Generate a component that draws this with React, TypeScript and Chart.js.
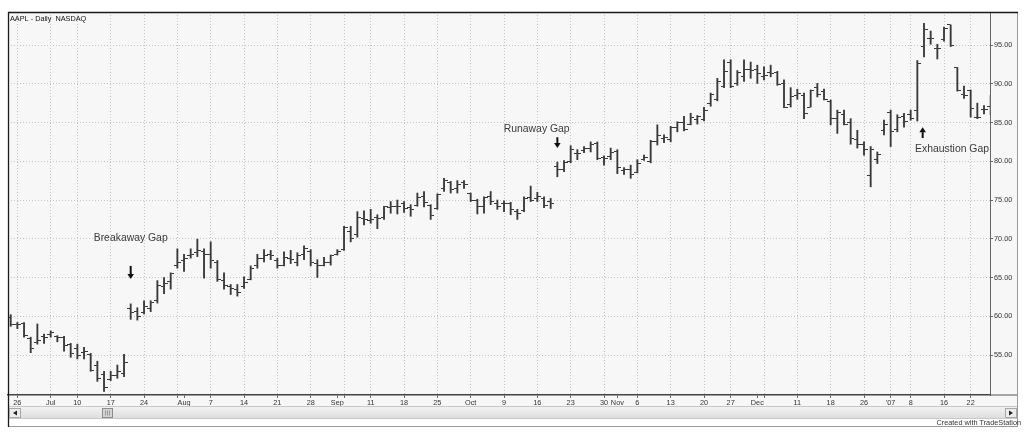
import React, { useEffect, useRef } from "react";
import { Chart, registerables } from "chart.js";

Chart.register(...registerables);

// AAPL daily bars, Jun 23 2006 .. Jan 25 2007 (index = trading day number)
const opens = [
  59.9, 59.0, 59.1, 57.1, 56.6, 57.4, 57.6, 57.4, 57.2, 56.3,
  55.8, 55.3, 55.1, 53.6, 52.5, 51.9, 52.4, 52.6, 61.0, 60.6,
  60.5, 61.0, 62.0, 63.8, 64.5, 66.5, 67.2, 67.8, 68.2, 68.4,
  68.0, 67.0, 64.6, 63.8, 63.5, 63.8, 64.8, 66.5, 67.5, 68.0,
  67.2, 66.6, 67.5, 67.0, 68.0, 68.3, 66.8, 66.6, 67.0, 68.0,
  68.6, 71.0, 70.5, 72.6, 72.3, 72.8, 72.8, 74.0, 74.2, 74.5,
  74.0, 74.3, 75.5, 74.3, 73.9, 76.5, 77.2, 76.5, 77.2, 75.8,
  75.0, 74.2, 75.4, 74.5, 74.6, 74.5, 73.5, 73.6, 75.3, 75.2,
  75.2, 74.8, 79.3, 79.0, 80.0, 81.0, 81.4, 81.6, 82.3, 80.5,
  80.6, 81.2, 78.8, 78.9, 78.6, 80.2, 80.0, 82.5, 83.0, 82.8,
  84.4, 85.0, 84.8, 85.4, 85.4, 87.4, 88.0, 89.6, 92.8, 90.0,
  91.0, 91.8, 91.8, 91.0, 91.5, 91.5, 90.0, 87.3, 88.5, 88.5,
  87.0, 89.5, 89.0, 87.7, 85.5, 86.0, 85.0, 82.8, 82.2, 78.2,
  80.2, 84.0, 86.3, 84.1, 85.8, 86.0, 86.5, 94.8, 95.9, 94.6,
  95.7, 97.6, 92.1, 88.6, 89.1, 85.7, 86.7, 87.1,
];
const highs = [
  60.2, 59.2, 59.2, 57.3, 59.0, 57.7, 58.1, 57.5, 57.4, 56.5,
  56.4, 56.0, 55.2, 54.2, 52.9, 52.9, 53.7, 55.1, 61.6, 61.1,
  62.0, 62.0, 64.6, 65.0, 65.6, 68.7, 68.0, 68.7, 69.95, 68.7,
  69.6, 67.2, 65.6, 64.1, 64.1, 65.1, 66.5, 68.0, 68.6, 68.5,
  67.5, 68.3, 68.5, 68.2, 69.1, 68.6, 67.3, 67.6, 67.9, 68.6,
  71.6, 71.6, 73.5, 73.6, 73.8, 73.1, 74.2, 74.8, 75.0, 74.8,
  74.4, 75.9, 76.1, 74.4, 75.8, 77.8, 77.4, 77.5, 77.5, 75.9,
  75.1, 75.4, 76.1, 75.0, 74.9, 74.7, 73.8, 75.4, 76.8, 76.0,
  75.4, 75.2, 79.9, 80.1, 82.0, 81.5, 81.9, 82.5, 82.5, 80.7,
  81.7, 81.5, 79.2, 79.5, 80.2, 80.8, 82.7, 84.7, 83.4, 84.5,
  85.1, 85.8, 86.2, 85.9, 86.95, 88.8, 90.7, 93.1, 93.1, 91.7,
  93.1, 92.8, 92.4, 92.2, 92.4, 91.6, 90.5, 89.5, 89.3, 88.8,
  89.2, 90.05, 89.3, 87.9, 86.6, 86.6, 85.5, 84.0, 82.5, 81.9,
  81.2, 85.3, 86.6, 86.0, 86.2, 86.6, 93.0, 97.8, 96.8, 95.1,
  97.3, 97.6, 92.1, 89.7, 89.2, 87.5, 87.2, 88.5,
];
const lows = [
  58.7, 58.4, 57.3, 55.3, 56.4, 56.5, 57.3, 56.7, 55.5, 54.7,
  54.5, 54.5, 52.9, 51.6, 50.3, 51.7, 52.0, 52.2, 59.6, 59.5,
  60.3, 60.6, 61.7, 62.9, 63.5, 66.2, 65.8, 67.5, 67.7, 64.9,
  66.2, 64.5, 63.5, 62.8, 62.6, 63.6, 64.7, 66.2, 67.0, 67.3,
  66.2, 66.5, 66.8, 66.5, 67.3, 66.5, 65.0, 66.5, 66.6, 67.9,
  68.5, 69.6, 70.2, 71.8, 72.0, 71.3, 72.5, 73.3, 73.2, 73.4,
  72.9, 74.2, 74.1, 72.5, 73.8, 76.1, 75.9, 75.9, 76.5, 74.8,
  73.2, 73.3, 74.4, 73.8, 73.5, 73.1, 72.5, 73.5, 74.8, 74.8,
  74.0, 73.9, 78.0, 78.65, 79.8, 80.2, 81.1, 81.2, 80.2, 79.5,
  80.2, 78.4, 78.3, 77.8, 78.5, 80.1, 79.8, 82.1, 82.4, 82.5,
  83.8, 83.9, 84.7, 84.8, 85.2, 87.1, 87.8, 89.5, 89.5, 89.8,
  90.3, 90.7, 90.05, 90.5, 90.9, 89.8, 86.9, 87.0, 88.0, 85.5,
  87.0, 88.3, 87.9, 84.7, 83.6, 84.7, 82.2, 81.7, 80.8, 76.7,
  79.7, 83.4, 81.9, 83.8, 84.4, 85.3, 85.2, 93.45, 95.1, 93.2,
  95.5, 94.8, 89.05, 88.1, 85.7, 85.5, 86.1, 86.0,
];
const closes = [
  59.0, 58.9, 57.5, 55.8, 56.9, 57.2, 57.9, 57.2, 56.2, 55.2,
  55.0, 55.4, 53.0, 52.0, 50.8, 52.3, 52.9, 54.0, 60.5, 60.0,
  61.3, 61.8, 64.0, 64.2, 65.5, 67.0, 67.5, 68.0, 68.5, 68.0,
  67.2, 64.8, 64.0, 63.6, 63.1, 64.3, 66.2, 67.5, 67.8, 67.9,
  66.5, 67.6, 67.3, 67.8, 68.7, 67.0, 66.5, 67.0, 67.8, 68.4,
  71.4, 70.0, 72.8, 72.5, 72.5, 72.6, 74.1, 74.2, 74.1, 73.9,
  73.8, 75.3, 74.7, 73.0, 75.7, 77.5, 76.4, 77.0, 77.0, 74.9,
  74.1, 75.3, 74.8, 74.2, 74.6, 73.8, 73.2, 75.2, 75.0, 75.4,
  74.3, 74.5, 79.0, 79.9, 81.5, 81.0, 81.7, 82.2, 80.4, 80.4,
  81.1, 79.2, 79.0, 78.3, 79.7, 80.5, 82.5, 83.3, 83.1, 84.4,
  85.0, 84.1, 85.6, 85.8, 86.5, 88.6, 90.3, 91.6, 89.6, 91.5,
  91.8, 91.7, 91.3, 91.1, 91.3, 89.9, 87.0, 88.3, 88.8, 86.1,
  89.1, 88.6, 88.0, 85.5, 86.3, 84.8, 82.9, 82.2, 81.5, 81.5,
  80.9, 84.8, 83.8, 85.7, 85.1, 85.5, 92.6, 97.0, 95.8, 94.6,
  97.1, 95.0, 89.1, 88.5, 86.8, 85.7, 86.7, 86.3,
];

// x-axis labels (trading-day index -> text)
const tickIdx = [1, 6, 10, 15, 20, 25, 26, 30, 35, 40, 45, 49, 50, 54, 59, 64, 69, 74, 79, 84, 89, 91, 94, 99, 104, 108, 112, 113, 118, 123, 128, 132, 135, 140, 144];
const tickText = ["26", "Jul", "10", "17", "24", "", "Aug", "7", "14", "21", "28", "Sep", "", "11", "18", "25", "Oct", "9", "16", "23", "30", "Nov", "6", "13", "20", "27", "Dec", "", "11", "18", "26", "'07", "8", "16", "22"];
// first trading day of each week: vertical grid lines
const weekStartIdx = [1, 6, 10, 15, 20, 25, 30, 35, 40, 45, 50, 54, 59, 64, 69, 74, 79, 84, 89, 94, 99, 104, 108, 113, 118, 123, 128, 132, 135, 140, 144];
const priceTicks = [55, 60, 65, 70, 75, 80, 85, 90, 95];

const gapNotes = [
  { text: "Breakaway Gap", textAt: [18, 70.1], arrowAt: 18, arrowFrom: 66.5, arrowTo: 64.8 },
  { text: "Runaway Gap", textAt: [78.9, 84.2], arrowAt: 82, arrowFrom: 83.1, arrowTo: 81.7 },
  { text: "Exhaustion Gap", textAt: [141.2, 81.6], arrowAt: 136.8, arrowFrom: 83.0, arrowTo: 84.4 },
];

const FONT = '"Liberation Sans", Arial, sans-serif';
const SMALL = 7.3;
const BAR = "#383838";

function tickImage(side: "left" | "right") {
  const c = document.createElement("canvas");
  c.width = 7;
  c.height = 1;
  const g = c.getContext("2d")!;
  g.fillStyle = BAR;
  if (side === "left") g.fillRect(0, 0, 3, 1);
  else g.fillRect(4, 0, 3, 1);
  return c;
}

const framePlugin = {
  id: "tsFrame",
  beforeDraw(chart: any) {
    const ctx = chart.ctx;
    ctx.save();
    ctx.fillStyle = "#ffffff";
    ctx.fillRect(0, 0, chart.width, chart.height);
    ctx.fillStyle = "#f7f7f7";
    ctx.fillRect(8, 12, 1010, 395);
    const grd = ctx.createLinearGradient(0, 407, 0, 419);
    grd.addColorStop(0, "#f2f2f2");
    grd.addColorStop(1, "#dcdcdc");
    ctx.fillStyle = grd;
    ctx.fillRect(8, 407, 1010, 11);
    ctx.restore();
  },
  afterDraw(chart: any) {
    const ctx = chart.ctx;
    const xs = chart.scales.x;
    const ys = chart.scales.y;
    ctx.save();
    for (const n of gapNotes) {
      ctx.font = `10.4px ${FONT}`;
      ctx.fillStyle = "#3a3a3a";
      ctx.textAlign = "center";
      ctx.textBaseline = "middle";
      ctx.fillText(n.text, xs.getPixelForValue(n.textAt[0]), ys.getPixelForValue(n.textAt[1]));
      const ax = xs.getPixelForValue(n.arrowAt);
      const y0 = ys.getPixelForValue(n.arrowFrom);
      const y1 = ys.getPixelForValue(n.arrowTo);
      const dir = Math.sign(y1 - y0);
      const head = 5;
      const hb = y1 - dir * head;
      ctx.fillStyle = "#111";
      ctx.fillRect(ax - 1, Math.min(y0, hb), 2, Math.abs(hb - y0));
      ctx.beginPath();
      ctx.moveTo(ax - 3.3, hb);
      ctx.lineTo(ax + 3.3, hb);
      ctx.lineTo(ax, y1);
      ctx.closePath();
      ctx.fill();
    }
    ctx.lineWidth = 1;
    ctx.strokeStyle = "#555";
    ctx.beginPath();
    ctx.moveTo(990, 395);
    ctx.lineTo(1018, 395);
    ctx.stroke();
    ctx.strokeStyle = "#c8c8c8";
    ctx.beginPath();
    ctx.moveTo(8, 406.5);
    ctx.lineTo(1018, 406.5);
    ctx.moveTo(8, 418.5);
    ctx.lineTo(1018, 418.5);
    ctx.stroke();
    ctx.strokeStyle = "#9a9a9a";
    ctx.beginPath();
    ctx.moveTo(8, 426.5);
    ctx.lineTo(1018, 426.5);
    ctx.moveTo(1017.5, 12);
    ctx.lineTo(1017.5, 427);
    ctx.stroke();
    ctx.strokeStyle = "#1a1a1a";
    ctx.lineWidth = 1.3;
    ctx.beginPath();
    ctx.moveTo(8, 12.5);
    ctx.lineTo(1018, 12.5);
    ctx.moveTo(8.5, 12);
    ctx.lineTo(8.5, 427);
    ctx.stroke();
    ctx.lineWidth = 1;
    ctx.fillStyle = "#ececec";
    ctx.strokeStyle = "#a8a8a8";
    ctx.fillRect(9.5, 408.5, 11, 9);
    ctx.strokeRect(9.5, 408.5, 11, 9);
    ctx.fillRect(1005.5, 408.5, 11, 9);
    ctx.strokeRect(1005.5, 408.5, 11, 9);
    ctx.fillStyle = "#d4d4d4";
    ctx.strokeStyle = "#8c8c8c";
    ctx.fillRect(102.5, 408.5, 10, 9);
    ctx.strokeRect(102.5, 408.5, 10, 9);
    ctx.strokeStyle = "#999";
    ctx.beginPath();
    for (const gx of [105.5, 107.5, 109.5]) {
      ctx.moveTo(gx, 410.5);
      ctx.lineTo(gx, 415.5);
    }
    ctx.stroke();
    ctx.fillStyle = "#222";
    ctx.beginPath();
    ctx.moveTo(13, 413);
    ctx.lineTo(17, 410.5);
    ctx.lineTo(17, 415.5);
    ctx.closePath();
    ctx.fill();
    ctx.beginPath();
    ctx.moveTo(1013, 413);
    ctx.lineTo(1009, 410.5);
    ctx.lineTo(1009, 415.5);
    ctx.closePath();
    ctx.fill();
    ctx.font = `${SMALL}px ${FONT}`;
    ctx.fillStyle = "#111";
    ctx.textAlign = "left";
    ctx.textBaseline = "middle";
    ctx.fillText("AAPL - Daily  NASDAQ", 10, 19);
    ctx.fillStyle = "#333";
    ctx.textAlign = "right";
    ctx.fillText("Created with TradeStation", 1021, 423);
    ctx.restore();
  },
};

export default function App() {
  const ref = useRef<HTMLCanvasElement | null>(null);
  useEffect(() => {
    if (!ref.current) return;
    const openImg = tickImage("left");
    const closeImg = tickImage("right");
    const chart = new Chart(ref.current, {
      type: "bar",
      data: {
        datasets: [
          {
            type: "bar",
            data: highs.map((h, i) => ({ x: i, y: [lows[i], h] })) as any,
            backgroundColor: BAR,
            borderWidth: 0,
            barThickness: 1.2,
            order: 1,
          } as any,
          {
            type: "line",
            data: opens.map((o, i) => ({ x: i, y: o })),
            showLine: false,
            pointStyle: openImg as any,
            pointRadius: 3,
            pointHoverRadius: 3,
            order: 0,
          } as any,
          {
            type: "line",
            data: closes.map((c, i) => ({ x: i, y: c })),
            showLine: false,
            pointStyle: closeImg as any,
            pointRadius: 3,
            pointHoverRadius: 3,
            order: 0,
          } as any,
        ],
      },
      options: {
        animation: false,
        responsive: false,
        events: [],
        layout: { padding: { left: 8, top: 12, right: 0, bottom: 0 } },
        plugins: { legend: { display: false }, tooltip: { enabled: false } },
        scales: {
          x: {
            type: "linear",
            offset: false,
            min: -0.405,
            max: 146.9,
            afterBuildTicks: (s: any) => {
              s.ticks = tickIdx.map((v) => ({ value: v }));
            },
            afterFit: (s: any) => {
              s.height = 44;
            },
            ticks: {
              autoSkip: false,
              maxRotation: 0,
              padding: 1,
              color: "#333",
              font: { family: FONT, size: SMALL },
              callback: (_v: any, i: number) => tickText[i],
            },
            grid: {
              offset: false,
              color: (c: any) => (c.tick && weekStartIdx.includes(c.tick.value) ? "#c4c4c4" : "rgba(0,0,0,0)"),
              tickColor: "#666",
              tickLength: 3,
            },
            border: { display: true, color: "#444", width: 1.5, dash: [1, 2] },
          },
          y: {
            type: "linear",
            position: "right",
            min: 49.84,
            max: 99.26,
            afterBuildTicks: (s: any) => {
              s.ticks = priceTicks.map((v) => ({ value: v }));
            },
            afterFit: (s: any) => {
              s.width = 35;
            },
            ticks: {
              padding: 1,
              color: "#333",
              font: { family: FONT, size: SMALL },
              callback: (v: any) => Number(v).toFixed(2),
            },
            grid: { color: "#c4c4c4", tickColor: "#666", tickLength: 3 },
            border: { display: true, color: "#666", width: 1, dash: [1, 2] },
          },
        },
      } as any,
      plugins: [framePlugin],
    });
    return () => chart.destroy();
  }, []);
  return (
    <canvas
      ref={ref}
      width={1025}
      height={439}
      style={{ position: "fixed", left: 0, top: 0, width: 1025, height: 439, display: "block" }}
    />
  );
}
